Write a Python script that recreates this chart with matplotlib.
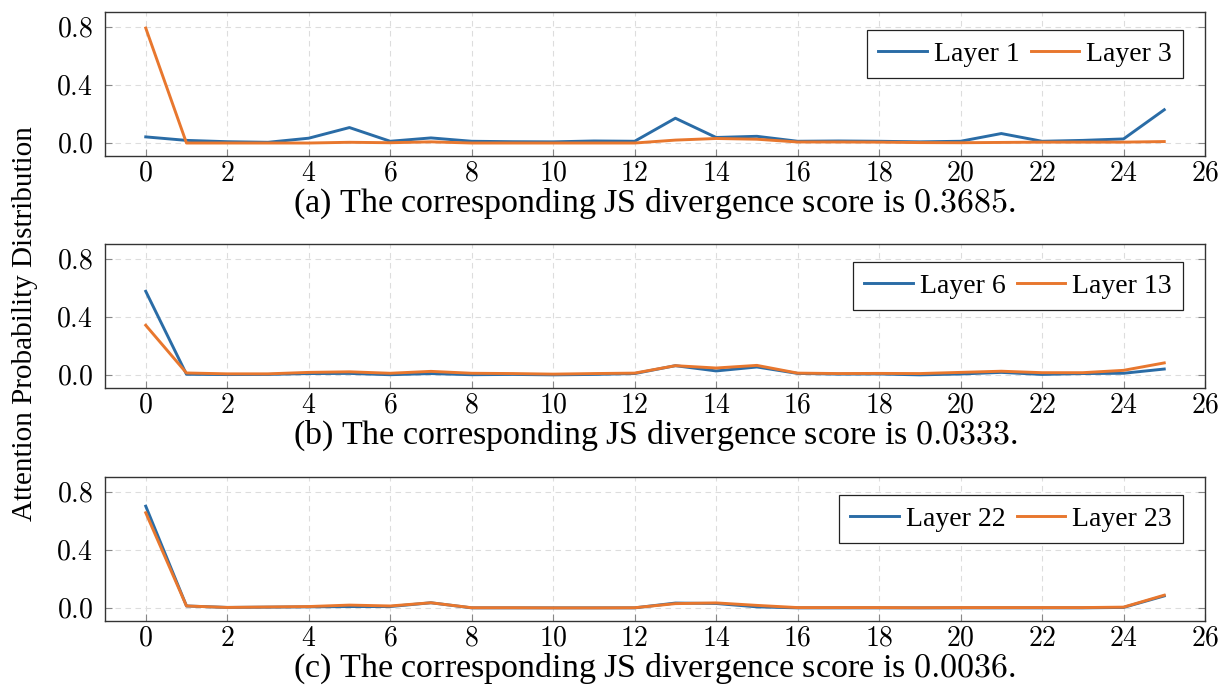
import numpy as np
import matplotlib
matplotlib.use("Agg")
import matplotlib.pyplot as plt
from matplotlib.ticker import FuncFormatter

plt.rcParams['font.family'] = ['Liberation Serif', 'DejaVu Serif']
plt.rcParams['mathtext.fontset'] = 'cm'

positions = np.arange(26)

# (a)
layer1 = [0.044, 0.020, 0.011, 0.007, 0.035, 0.108, 0.014, 0.037, 0.014, 0.011,
          0.010, 0.016, 0.014, 0.172, 0.040, 0.048, 0.014, 0.016, 0.014, 0.010,
          0.014, 0.067, 0.014, 0.020, 0.030, 0.230]
layer3 = [0.790, 0.002, 0.002, 0.002, 0.002, 0.007, 0.004, 0.010, 0.002, 0.002,
          0.002, 0.002, 0.002, 0.022, 0.033, 0.028, 0.009, 0.009, 0.008, 0.005,
          0.004, 0.006, 0.008, 0.008, 0.008, 0.012]
# (b)
layer6 = [0.576, 0.007, 0.005, 0.006, 0.012, 0.013, 0.004, 0.012, 0.004, 0.006,
          0.003, 0.006, 0.012, 0.066, 0.030, 0.057, 0.013, 0.008, 0.009, 0.003,
          0.009, 0.020, 0.006, 0.012, 0.014, 0.043]
layer13 = [0.343, 0.016, 0.010, 0.010, 0.020, 0.024, 0.014, 0.027, 0.014, 0.012,
           0.008, 0.012, 0.015, 0.066, 0.050, 0.068, 0.015, 0.012, 0.013, 0.012,
           0.020, 0.028, 0.018, 0.018, 0.034, 0.085]
# (c)
layer22 = [0.700, 0.016, 0.006, 0.008, 0.010, 0.012, 0.012, 0.038, 0.003, 0.003,
           0.003, 0.003, 0.003, 0.036, 0.033, 0.010, 0.003, 0.003, 0.003, 0.003,
           0.003, 0.003, 0.003, 0.003, 0.006, 0.085]
layer23 = [0.655, 0.016, 0.006, 0.009, 0.012, 0.022, 0.016, 0.038, 0.004, 0.004,
           0.003, 0.003, 0.004, 0.032, 0.037, 0.020, 0.005, 0.005, 0.005, 0.004,
           0.005, 0.005, 0.005, 0.005, 0.008, 0.090]

panels = [
    (layer1, layer3, "Layer 1", "Layer 3", "(a) The corresponding JS divergence score is $0.3685$."),
    (layer6, layer13, "Layer 6", "Layer 13", "(b) The corresponding JS divergence score is $0.0333$."),
    (layer22, layer23, "Layer 22", "Layer 23", "(c) The corresponding JS divergence score is $0.0036$."),
]

blue = '#2a6ca6'
orange = '#e8772e'

W, H = 1223, 697
fig = plt.figure(figsize=(W / 100, H / 100), dpi=100)

tops = [12, 244, 477]
ax_h = 144
left, right = 105, 1205

for k, (s1, s2, n1, n2, cap) in enumerate(panels):
    ax = fig.add_axes([left / W, 1 - (tops[k] + ax_h) / H, (right - left) / W, ax_h / H])
    ax.plot(positions, s1, color=blue, lw=2.1, label=n1)
    ax.plot(positions, s2, color=orange, lw=2.1, label=n2)
    ax.set_xlim(-1, 26)
    ax.set_ylim(-0.087, 0.9)
    ax.set_xticks(np.arange(0, 27, 2))
    ax.set_yticks([0.0, 0.4, 0.8])
    ax.xaxis.set_major_formatter(FuncFormatter(lambda v, p: "$%d$" % v))
    ax.yaxis.set_major_formatter(FuncFormatter(lambda v, p: "$%.1f$" % v))
    ax.tick_params(direction='in', length=5, width=0.8, color='#888888',
                   labelsize=20, right=True)
    ax.tick_params(axis='x', pad=4)
    ax.tick_params(axis='y', pad=8.5)
    ax.grid(True, ls=(0, (5, 4)), color='#dddddd', lw=0.8)
    for sp in ax.spines.values():
        sp.set_color('#333333')
        sp.set_linewidth(1.0)
    leg = ax.legend(loc='upper right', ncol=2, fontsize=20,
                    bbox_to_anchor=(1 - 22 / 1100, 1 - 18 / ax_h), borderaxespad=0,
                    fancybox=False, framealpha=1, edgecolor='#222222',
                    handlelength=1.75, handletextpad=0.25, columnspacing=0.4,
                    borderpad=0.4)
    leg.get_frame().set_linewidth(0.9)
    ax.text(0.5, -48 / ax_h, cap, transform=ax.transAxes, ha='center', va='center',
            fontsize=24.5)

fig.text(25 / W, 1 - 324 / H, "Attention Probability Distribution", rotation=90,
         ha='center', va='center', fontsize=21)

fig.savefig("out.png", dpi=100)
